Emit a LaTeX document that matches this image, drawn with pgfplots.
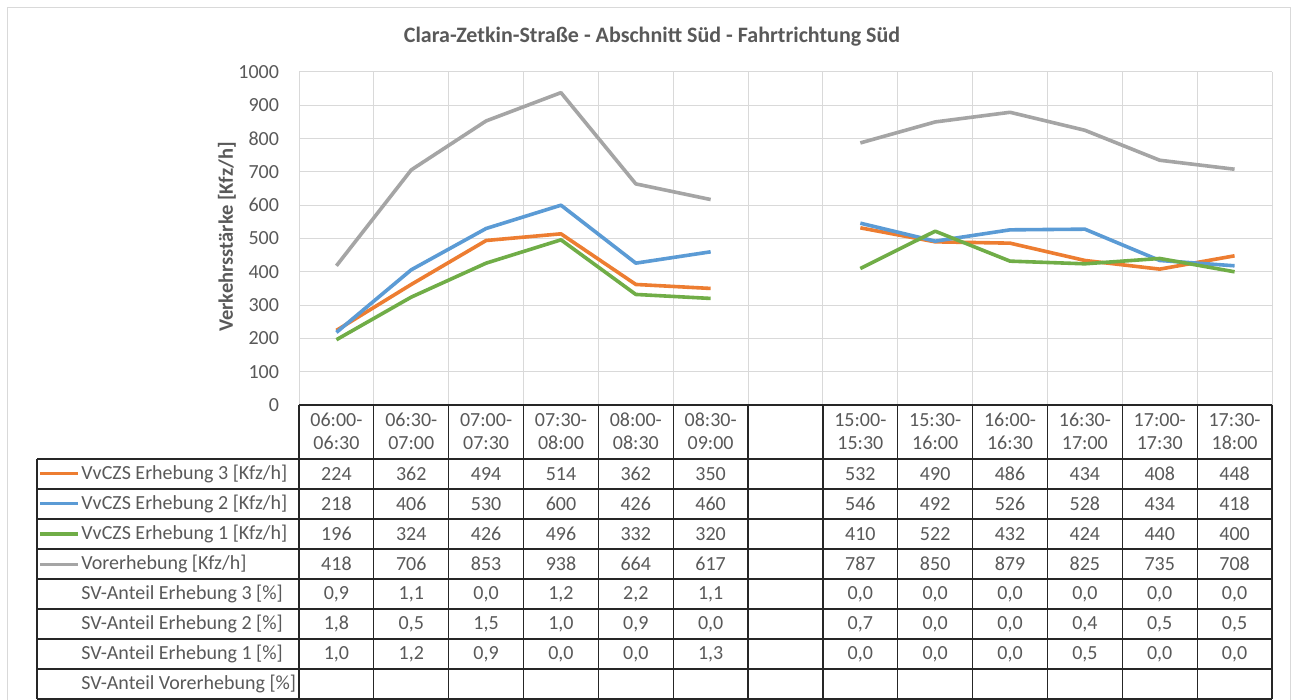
\documentclass[border=0pt]{standalone}
\usepackage{fontspec}
\setmainfont{Carlito}
\usepackage{pgfplots}
\pgfplotsset{compat=1.18}
\usepackage{pgfplotstable}
\definecolor{cOr}{HTML}{ED7D31}
\definecolor{cBl}{HTML}{5B9BD5}
\definecolor{cGr}{HTML}{70AD47}
\definecolor{cGy}{HTML}{A5A5A5}
\definecolor{gridgrey}{HTML}{D9D9D9}
\definecolor{labgrey}{HTML}{595959}
\definecolor{tabline}{HTML}{262626}
\pgfplotstableread{
x e3 e2 e1 v
0.5 224 218 196 418
1.5 362 406 324 706
2.5 494 530 426 853
3.5 514 600 496 938
4.5 362 426 332 664
5.5 350 460 320 617
6.5 nan nan nan nan
7.5 532 546 410 787
8.5 490 492 522 850
9.5 486 526 432 879
10.5 434 528 424 825
11.5 408 434 440 735
12.5 448 418 400 708
}\data
\begin{document}
\begin{tikzpicture}
\fill[white] (0,0) rectangle (646pt,-350pt);
\useasboundingbox (0,0) rectangle (646pt,-350pt);
\begin{axis}[
  at={(149.5pt,-202.5pt)}, anchor=south west,
  scale only axis, width=486.5pt, height=166.5pt,
  xmin=0, xmax=13, ymin=0, ymax=1000,
  xtick={0,...,13}, xticklabels={\relax},
  xticklabel style={opacity=0},
  ytick={0,100,...,1000},
  xmajorgrids, ymajorgrids,
  grid style={color=gridgrey, line width=0.5pt},
  axis line style={draw=none},
  major tick length=0pt,
  /pgf/number format/assume math mode=true,
  /pgf/number format/1000 sep={},
  yticklabel style={font=\fontsize{10}{12}\selectfont, text=labgrey, xshift=-6.5pt},
  unbounded coords=jump,
  clip=false,
]
\addplot[cOr, line width=1.8pt, line join=round] table[x=x,y=e3]{\data};
\addplot[cBl, line width=1.8pt, line join=round] table[x=x,y=e2]{\data};
\addplot[cGr, line width=1.8pt, line join=round] table[x=x,y=e1]{\data};
\addplot[cGy, line width=1.8pt, line join=round] table[x=x,y=v]{\data};
\end{axis}
\begin{scope}[x=0.5pt,y=-0.5pt]
\draw[gridgrey, line width=0.5pt] (7,8) -- (1290,8) -- (1290,700);
\draw[gridgrey, line width=0.5pt] (7,8) -- (7,700);
\node[font=\bfseries\fontsize{11}{13}\selectfont, text=labgrey] at (652,37) {Clara-Zetkin-Straße - Abschnitt Süd - Fahrtrichtung Süd};
\node[font=\bfseries\fontsize{10.25}{12}\selectfont, text=labgrey, rotate=90] at (227,237) {Verkehrsstärke [Kfz/h]};
% table lines
\draw[tabline, line width=0.6pt] (299,405) -- (1272,405);
\foreach \yy in {459,489,519,549,579,609,639,669,699} {
  \draw[tabline, line width=0.6pt] (37,\yy) -- (1272,\yy);
}
\draw[tabline, line width=0.6pt] (37,459) -- (37,699);
\foreach \k in {0,...,13} {
  \draw[tabline, line width=0.6pt] ({299+74.846*\k},405) -- ({299+74.846*\k},699);
}
% header
\foreach \k/\a/\b in {0/06:00/06:30,1/06:30/07:00,2/07:00/07:30,3/07:30/08:00,4/08:00/08:30,5/08:30/09:00,7/15:00/15:30,8/15:30/16:00,9/16:00/16:30,10/16:30/17:00,11/17:00/17:30,12/17:30/18:00} {
  \node[font=\fontsize{10}{12}\selectfont, text=labgrey] at ({299+74.846*(\k+0.5)},420) {\a-};
  \node[font=\fontsize{10}{12}\selectfont, text=labgrey] at ({299+74.846*(\k+0.5)},443) {\b};
}
% values
\foreach \r/\vals in {
  0/{224,362,494,514,362,350,,532,490,486,434,408,448},
  1/{218,406,530,600,426,460,,546,492,526,528,434,418},
  2/{196,324,426,496,332,320,,410,522,432,424,440,400},
  3/{418,706,853,938,664,617,,787,850,879,825,735,708},
  4/{0{,}9,1{,}1,0{,}0,1{,}2,2{,}2,1{,}1,,0{,}0,0{,}0,0{,}0,0{,}0,0{,}0,0{,}0},
  5/{1{,}8,0{,}5,1{,}5,1{,}0,0{,}9,0{,}0,,0{,}7,0{,}0,0{,}0,0{,}4,0{,}5,0{,}5},
  6/{1{,}0,1{,}2,0{,}9,0{,}0,0{,}0,1{,}3,,0{,}0,0{,}0,0{,}0,0{,}5,0{,}0,0{,}0}} {
  \foreach \v [count=\k from 0] in \vals {
    \node[font=\fontsize{10}{12}\selectfont, text=labgrey] at ({299+74.846*(\k+0.5)},{474+30*\r}) {\v};
  }
}
% row labels
\foreach \r/\c/\t in {0/cOr/{VvCZS Erhebung 3 [Kfz/h]},1/cBl/{VvCZS Erhebung 2 [Kfz/h]},2/cGr/{VvCZS Erhebung 1 [Kfz/h]},3/cGy/{Vorerhebung [Kfz/h]}} {
  \draw[\c, line width=1.5pt] (40,{474+30*\r}) -- (78,{474+30*\r});
  \node[anchor=west, inner sep=0pt, font=\fontsize{10}{12}\selectfont, text=labgrey] at (81,{474+30*\r}) {\t};
}
\foreach \r/\t in {4/SV-Anteil Erhebung 3 [\%],5/SV-Anteil Erhebung 2 [\%],6/SV-Anteil Erhebung 1 [\%],7/SV-Anteil Vorerhebung [\%]} {
  \node[anchor=west, inner sep=0pt, font=\fontsize{10}{12}\selectfont, text=labgrey] at (81,{474+30*\r}) {\t};
}
\end{scope}
\end{tikzpicture}
\end{document}
